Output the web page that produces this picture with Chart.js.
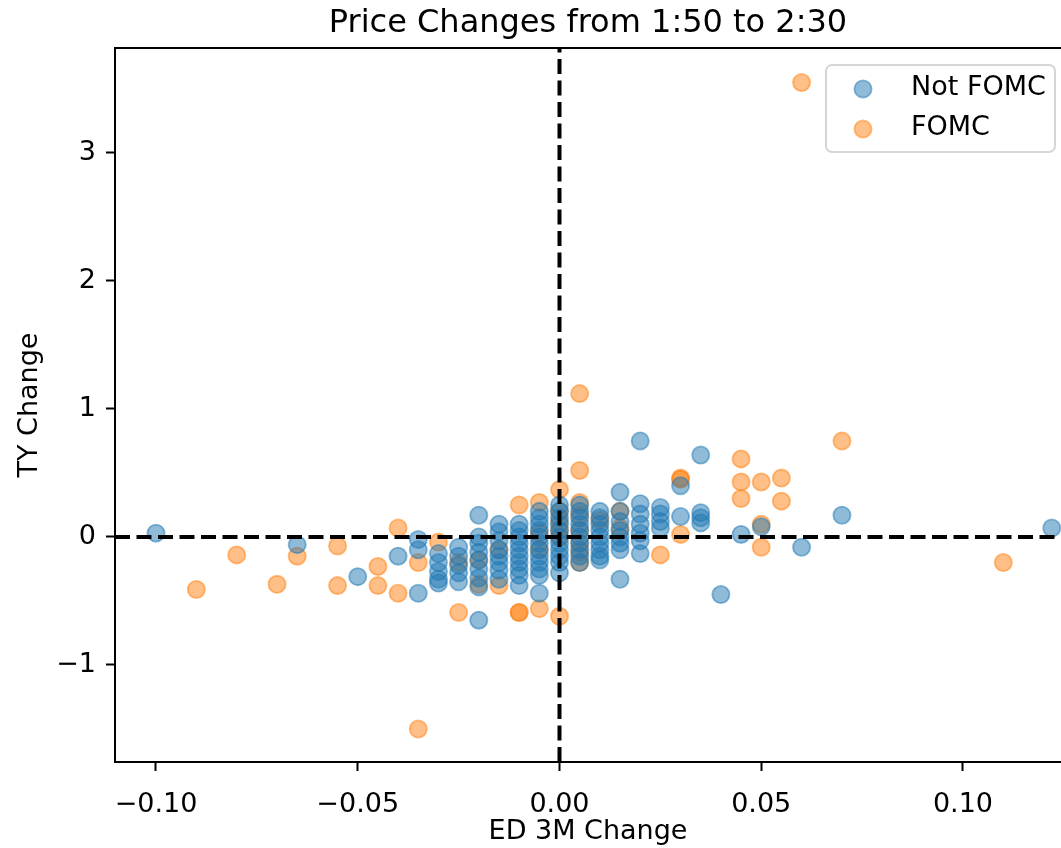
<!DOCTYPE html>
<html>
<head>
<meta charset="utf-8">
<script src="https://cdn.jsdelivr.net/npm/chart.js@4/dist/chart.umd.min.js"></script>
<style>
  html, body { margin: 0; padding: 0; background: #ffffff; overflow: hidden; }
  #wrap { width: 1061px; height: 848px; position: relative; overflow: hidden; }
  #c { display: block; width: 1061px; height: 848px; }
</style>
</head>
<body>
<div id="wrap"><canvas id="c" width="1061" height="848"></canvas></div>
<script>
// ---- data ----
const titleText = "Price Changes from 1:50 to 2:30";
const xLabel = "ED 3M Change";
const yLabel = "TY Change";
const seriesNames = ["Not FOMC", "FOMC"];
const xTicks = [-0.10, -0.05, 0.00, 0.05, 0.10];
const yTicks = [-1, 0, 1, 2, 3];

const notFomcX = [
  -0.10, -0.065, -0.05, -0.04, -0.035, -0.035, -0.035,
  -0.03, -0.03, -0.03, -0.03, -0.03,
  -0.025, -0.025, -0.025, -0.025, -0.025,
  -0.02, -0.02, -0.02, -0.02, -0.02, -0.02, -0.02, -0.02, -0.02,
  -0.015, -0.015, -0.015, -0.015, -0.015, -0.015, -0.015, -0.015,
  -0.01, -0.01, -0.01, -0.01, -0.01, -0.01, -0.01, -0.01, -0.01, -0.01,
  -0.005, -0.005, -0.005, -0.005, -0.005, -0.005, -0.005, -0.005, -0.005, -0.005, -0.005, -0.005,
  0, 0, 0, 0, 0, 0, 0, 0, 0, 0, 0,
  0.005, 0.005, 0.005, 0.005, 0.005, 0.005, 0.005, 0.005, 0.005, 0.005,
  0.01, 0.01, 0.01, 0.01, 0.01, 0.01, 0.01, 0.01, 0.01,
  0.015, 0.015, 0.015, 0.015, 0.015, 0.015, 0.015, 0.015,
  0.02, 0.02, 0.02, 0.02, 0.02, 0.02, 0.02,
  0.025, 0.025, 0.025, 0.025,
  0.03, 0.03,
  0.035, 0.035, 0.035, 0.035,
  0.04, 0.045, 0.05, 0.06, 0.07, 0.122
];
const notFomcY = [
  0.03, -0.06, -0.31, -0.15, -0.02, -0.10, -0.44,
  -0.13, -0.20, -0.27, -0.33, -0.36,
  -0.08, -0.15, -0.22, -0.28, -0.35,
  0.17, 0.00, -0.05, -0.12, -0.18, -0.25, -0.32, -0.39, -0.65,
  0.10, 0.04, -0.03, -0.10, -0.15, -0.20, -0.26, -0.33,
  0.10, 0.05, 0.00, -0.05, -0.10, -0.15, -0.20, -0.25, -0.30, -0.38,
  0.20, 0.15, 0.10, 0.05, 0.00, -0.05, -0.10, -0.15, -0.20, -0.25, -0.30, -0.44,
  0.25, 0.20, 0.15, 0.10, 0.05, 0.00, -0.05, -0.10, -0.15, -0.20, -0.28,
  0.25, 0.20, 0.15, 0.10, 0.05, 0.00, -0.05, -0.10, -0.15, -0.20,
  0.20, 0.15, 0.10, 0.05, 0.00, -0.05, -0.10, -0.15, -0.18,
  0.35, 0.20, 0.12, 0.05, 0.00, -0.05, -0.10, -0.33,
  0.75, 0.26, 0.18, 0.10, 0.03, -0.03, -0.13,
  0.23, 0.18, 0.12, 0.07,
  0.40, 0.16,
  0.64, 0.19, 0.15, 0.11,
  -0.45, 0.02, 0.08, -0.08, 0.17, 0.07
];

const fomcX = [
  -0.09, -0.08, -0.07, -0.065, -0.055, -0.055, -0.045, -0.045, -0.04, -0.04,
  -0.035, -0.035, -0.03, -0.025, -0.025, -0.02, -0.02, -0.015, -0.015,
  -0.01, -0.01, -0.01, -0.005, -0.005, -0.005, -0.005,
  0, 0, 0, 0, 0, 0,
  0.005, 0.005, 0.005, 0.005, 0.005, 0.005, 0.005, 0.005,
  0.01, 0.015, 0.015, 0.025, 0.03, 0.03, 0.03,
  0.045, 0.045, 0.045, 0.05, 0.05, 0.05, 0.055, 0.055, 0.06, 0.07, 0.11
];
const fomcY = [
  -0.41, -0.14, -0.37, -0.15, -0.07, -0.38, -0.23, -0.38, 0.07, -0.44,
  -0.20, -1.50, -0.04, -0.20, -0.59, -0.18, -0.37, -0.10, -0.38,
  0.25, -0.59, -0.59, 0.27, 0.03, -0.10, -0.56,
  0.37, 0.20, 0.12, 0.05, 0.00, -0.62,
  1.12, 0.52, 0.27, 0.17, 0.05, -0.05, -0.12, -0.20,
  0.13, 0.20, 0.07, -0.14, 0.46, 0.45, 0.02,
  0.61, 0.43, 0.30, 0.43, 0.10, -0.08, 0.46, 0.28, 3.55, 0.75, -0.20
];

// ---- helpers ----
const BLUE = 'rgba(31,119,180,0.5)';
const ORANGE = 'rgba(255,127,14,0.5)';
const FONT = "'DejaVu Sans', sans-serif";
const toPts = (xs, ys) => xs.map((x, i) => ({ x: x, y: ys[i] }));
const fmtMinus = s => s.replace('-', '\u2212');

const refLines = {
  id: 'refLines',
  afterDatasetsDraw(chart) {
    const { ctx, chartArea: a, scales: { x, y } } = chart;
    ctx.save();
    ctx.strokeStyle = '#000';
    ctx.lineWidth = 4;
    ctx.setLineDash([15, 6.5]);
    ctx.lineCap = 'butt';
    const x0 = x.getPixelForValue(0);
    const y0 = y.getPixelForValue(0);
    ctx.beginPath(); ctx.moveTo(a.left, y0); ctx.lineTo(a.right, y0); ctx.stroke();
    ctx.beginPath(); ctx.moveTo(x0, a.bottom); ctx.lineTo(x0, a.top); ctx.stroke();
    ctx.setLineDash([]);
    ctx.lineWidth = 2;
    ctx.beginPath(); ctx.moveTo(a.left - 1, a.top); ctx.lineTo(a.right, a.top); ctx.stroke();
    ctx.restore();
  }
};

const boxLegend = {
  id: 'boxLegend',
  afterDraw(chart) {
    const { ctx } = chart;
    const L = 826, T = 65, W = 229, H = 87, r = 6;
    ctx.save();
    ctx.beginPath();
    ctx.roundRect(L, T, W, H, r);
    ctx.fillStyle = 'rgba(255,255,255,0.8)';
    ctx.fill();
    ctx.lineWidth = 2;
    ctx.strokeStyle = 'rgba(204,204,204,0.8)';
    ctx.stroke();
    const rows = [89, 129];
    chart.data.datasets.forEach((ds, i) => {
      ctx.beginPath();
      ctx.arc(863, rows[i], ds.pointRadius, 0, Math.PI * 2);
      ctx.fillStyle = ds.backgroundColor;
      ctx.fill();
      ctx.lineWidth = ds.borderWidth;
      ctx.strokeStyle = ds.borderColor;
      ctx.stroke();
      ctx.fillStyle = '#000';
      ctx.font = "27px " + FONT;
      ctx.textAlign = 'left';
      ctx.textBaseline = 'middle';
      ctx.fillText(ds.label, 911, rows[i] - 1);
    });
    ctx.restore();
  }
};

new Chart(document.getElementById('c'), {
  type: 'scatter',
  data: {
    datasets: [
      { label: seriesNames[0], data: toPts(notFomcX, notFomcY),
        backgroundColor: BLUE, borderColor: BLUE, borderWidth: 1.8,
        pointRadius: 8.6, pointHoverRadius: 8.6 },
      { label: seriesNames[1], data: toPts(fomcX, fomcY),
        backgroundColor: ORANGE, borderColor: ORANGE, borderWidth: 1.8,
        pointRadius: 8.6, pointHoverRadius: 8.6 }
    ]
  },
  options: {
    responsive: false,
    maintainAspectRatio: false,
    animation: false,
    devicePixelRatio: 1,
    layout: { autoPadding: false, padding: { left: 0, right: 0, top: 0, bottom: 0 } },
    plugins: {
      legend: { display: false },
      tooltip: { enabled: false },
      title: {
        display: true, text: titleText, color: '#000', fullSize: false,
        font: { family: FONT, size: 32, weight: 'normal', lineHeight: 1.2 },
        padding: { top: 4, bottom: 5.6 }
      }
    },
    scales: {
      x: {
        type: 'linear', min: -0.11016, max: 0.12429,
        afterBuildTicks: s => { s.ticks = xTicks.map(v => ({ value: v })); },
        afterFit: s => { s.height = 86; },
        grid: { drawOnChartArea: false, drawTicks: true, tickLength: 9, tickWidth: 2, tickColor: '#000' },
        border: { display: true, color: '#000', width: 2 },
        ticks: { color: '#000', font: { family: FONT, size: 27 }, padding: 17.5,
                 autoSkip: false, maxRotation: 0,
                 callback: v => fmtMinus(Number(v).toFixed(2)) },
        title: { display: true, text: xLabel, color: '#000',
                 font: { family: FONT, size: 27, lineHeight: 1.2 }, padding: { top: 0, bottom: 0 } }
      },
      y: {
        type: 'linear', min: -1.758, max: 3.82,
        afterBuildTicks: s => { s.ticks = yTicks.map(v => ({ value: v })); },
        afterFit: s => { s.width = 115; },
        grid: { drawOnChartArea: false, drawTicks: true, tickLength: 9, tickWidth: 2, tickColor: '#000' },
        border: { display: true, color: '#000', width: 2 },
        ticks: { color: '#000', font: { family: FONT, size: 27 }, padding: 10,
                 autoSkip: false, callback: v => fmtMinus(String(v)) },
        title: { display: true, text: yLabel, color: '#000',
                 font: { family: FONT, size: 27, lineHeight: 1.2 }, padding: { top: 14, bottom: 0 } }
      }
    }
  },
  plugins: [refLines, boxLegend]
});
</script>
</body>
</html>
